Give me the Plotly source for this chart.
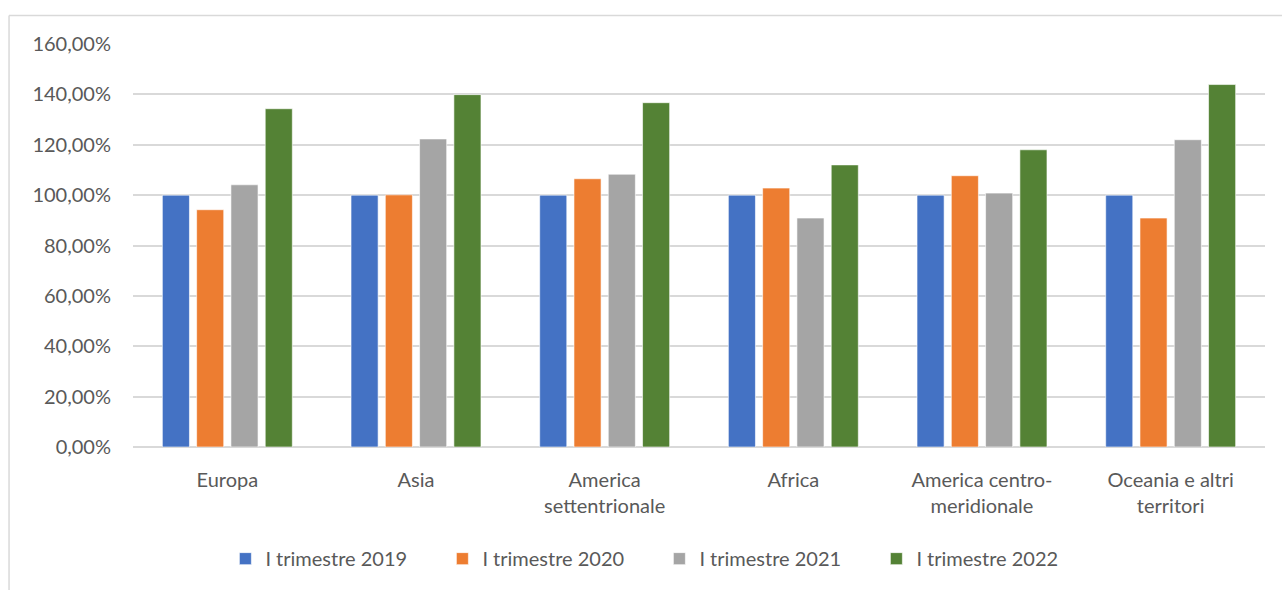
import plotly.graph_objects as go

categories = ["Europa", "Asia", "America<br>settentrionale", "Africa",
              "America centro-<br>meridionale", "Oceania e altri<br>territori"]
series_names = ["I trimestre 2019", "I trimestre 2020", "I trimestre 2021", "I trimestre 2022"]
v2019 = [100.0, 100.0, 100.0, 100.0, 100.0, 100.0]
v2020 = [94.2, 100.1, 106.5, 102.8, 107.7, 90.9]
v2021 = [104.1, 122.3, 108.3, 90.9, 100.8, 122.0]
v2022 = [134.3, 139.9, 136.7, 112.0, 118.0, 143.9]
colors = ["#4472C4", "#ED7D31", "#A5A5A5", "#548235"]
tick_vals = [0, 20, 40, 60, 80, 100, 120, 140, 160]
tick_labels = ["0,00%", "20,00%", "40,00%", "60,00%", "80,00%",
               "100,00%", "120,00%", "140,00%", "160,00%"]

fig = go.Figure()
for name, vals, col in zip(series_names, [v2019, v2020, v2021, v2022], colors):
    fig.add_trace(go.Bar(x=categories, y=vals, name=name,
                         marker=dict(color=col, line=dict(color="white", width=0.6))))

font_family = "Lato, 'Open Sans', sans-serif"
fs = 20
fig.update_layout(
    width=1282, height=590,
    margin=dict(l=133, r=17, t=44, b=138),
    paper_bgcolor="white", plot_bgcolor="white",
    barmode="group", bargap=0.273, bargroupgap=0.21,
    font=dict(family=font_family, size=fs, color="#595959"),
    legend=dict(orientation="h", x=0.465, xanchor="center", y=-0.277, yanchor="middle",
                font=dict(size=fs, color="#595959"), itemwidth=30, traceorder="normal",
                entrywidth=172),
    showlegend=True,
)
fig.update_yaxes(range=[0, 160], tickvals=tick_vals, ticktext=tick_labels,
                 showgrid=True, gridcolor="#d9d9d9", gridwidth=1.5,
                 zeroline=True, zerolinecolor="#d9d9d9", zerolinewidth=2,
                 showline=False, ticks="", ticklabelstandoff=21, automargin=False,
                 tickfont=dict(size=fs, color="#595959"))
fig.update_xaxes(showgrid=False, showline=False, ticks="", ticklabelstandoff=19,
                 automargin=False, tickfont=dict(size=fs, color="#595959"))

# chart frame
fig.add_shape(type="line", xref="paper", yref="paper", x0=-0.1095, x1=1.1, y0=1.071, y1=1.071,
              line=dict(color="#d9d9d9", width=1.5))
fig.add_shape(type="line", xref="paper", yref="paper", x0=-0.1095, x1=-0.1095, y0=1.071, y1=-0.5,
              line=dict(color="#d9d9d9", width=1.5))

fig.write_html("out.html")
